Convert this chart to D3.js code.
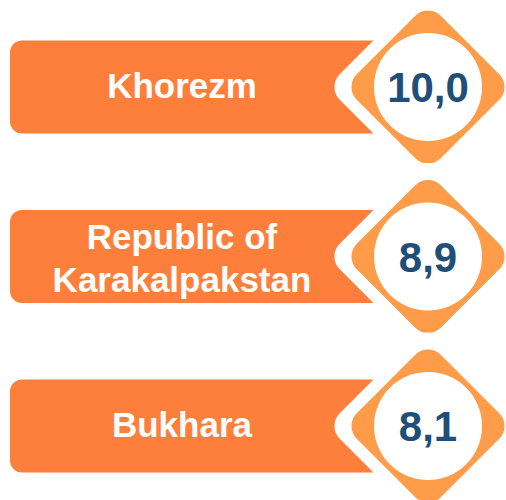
<!DOCTYPE html>
<html>
<head>
<meta charset="utf-8">
<script src="https://cdn.jsdelivr.net/npm/d3@7"></script>
<style>
  html, body { margin: 0; padding: 0; background: #fff; }
  svg { display: block; }
</style>
</head>
<body>
<svg width="506" height="500"></svg>
<script>
const regions = ["Khorezm", "Republic of Karakalpakstan", "Bukhara"];
const label_lines = [["Khorezm"], ["Republic of", "Karakalpakstan"], ["Bukhara"]];
const values = [10.0, 8.9, 8.1];

const width = 506;
const height = 500;

const bar_color = "#fe7f3b";
const diamond_color = "#ff9c4a";
const number_color = "#1f4e79";

const bar_left = 10;
const bar_h = 93;
const badge_x = 428;
const outer_half = 101 / Math.SQRT2;  // white outline square half side
const inner_half = 84 / Math.SQRT2;   // orange diamond half side
const corner = 18;
const circle_r = 54;

const fmt = d3.formatLocale({ decimal: ",", thousands: " ", grouping: [3], currency: ["", ""] }).format(".1f");

const y = d3.scalePoint(regions, [87, 426]);

const data = regions.map((r, i) => ({ name: r, lines: label_lines[i], value: values[i] }));

const svg = d3.select("svg");

const row = svg.selectAll("g.row")
  .data(data)
  .join("g")
    .attr("class", "row")
    .attr("transform", d => `translate(0,${y(d.name)})`);

// bar
row.append("rect")
  .attr("x", bar_left)
  .attr("y", -bar_h / 2)
  .attr("width", badge_x - bar_left)
  .attr("height", bar_h)
  .attr("rx", 12)
  .attr("fill", bar_color);

// white outline diamond, then orange diamond, then circle
const badge = row.append("g")
  .attr("transform", `translate(${badge_x},0) rotate(45)`);

badge.append("rect")
  .attr("x", -outer_half).attr("y", -outer_half)
  .attr("width", outer_half * 2).attr("height", outer_half * 2)
  .attr("rx", corner)
  .attr("fill", "#fff");

badge.append("rect")
  .attr("x", -inner_half).attr("y", -inner_half)
  .attr("width", inner_half * 2).attr("height", inner_half * 2)
  .attr("rx", corner)
  .attr("fill", diamond_color);

row.append("circle")
  .attr("cx", badge_x)
  .attr("cy", 0)
  .attr("r", circle_r)
  .attr("fill", "#fff");

// labels
row.append("text")
  .attr("x", bar_left + 172)
  .attr("text-anchor", "middle")
  .attr("font-family", "'Liberation Sans', Arial, sans-serif")
  .attr("font-weight", "bold")
  .attr("font-size", 35)
  .attr("fill", "#fff")
  .selectAll("tspan")
  .data(d => d.lines.map((t, i) => ({ t, i, n: d.lines.length })))
  .join("tspan")
    .attr("x", bar_left + 172)
    .attr("y", d => 10.5 - (d.n - 1) * 18 + d.i * 43)
    .text(d => d.t);

// values
row.append("text")
  .attr("x", badge_x)
  .attr("y", 15)
  .attr("text-anchor", "middle")
  .attr("font-family", "'Liberation Sans', Arial, sans-serif")
  .attr("font-weight", "bold")
  .attr("font-size", 42)
  .attr("fill", number_color)
  .text(d => fmt(d.value));
</script>
</body>
</html>
